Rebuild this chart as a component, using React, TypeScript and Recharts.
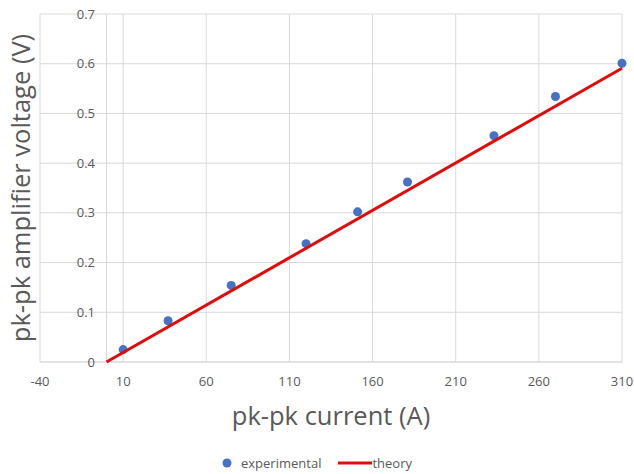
import React from "react";
import {
  ScatterChart,
  Scatter,
  XAxis,
  YAxis,
  CartesianGrid,
  ReferenceLine,
  Legend,
} from "recharts";

// experimental readings
const currentA = [10, 37, 75, 120, 151, 181, 233, 270, 310];
const voltageV = [0.025, 0.083, 0.154, 0.238, 0.302, 0.362, 0.455, 0.534, 0.601];

// theory line endpoints
const theoryCurrent = [0, 310];
const theoryVoltage = [0, 0.591];

const xTicks = [-40, 10, 60, 110, 160, 210, 260, 310];
const yTicks = [0, 0.1, 0.2, 0.3, 0.4, 0.5, 0.6, 0.7];

const experimental = currentA.map((x, i) => ({ x, y: voltageV[i] }));
const theory = theoryCurrent.map((x, i) => ({ x, y: theoryVoltage[i] }));

const FONT = "'Open Sans', sans-serif";
const GRID = "#d9d9d9";
const TEXT = "#595959";
const BLUE = "#4472c4";
const RED = "#e00b0b";

function LegendBox() {
  return (
    <div
      style={{
        display: "flex",
        justifyContent: "center",
        alignItems: "center",
        height: 22,
        fontFamily: FONT,
        fontSize: 13,
        color: TEXT,
        paddingLeft: 12,
      }}
    >
      <svg width={10} height={10} style={{ marginRight: 9 }}>
        <circle cx={5} cy={5} r={4.5} fill={BLUE} />
      </svg>
      <span style={{ marginRight: 17 }}>experimental</span>
      <svg width={34} height={4}>
        <line x1={0} y1={2} x2={34} y2={2} stroke={RED} strokeWidth={3} />
      </svg>
      <span>theory</span>
    </div>
  );
}

export default function App() {
  return (
    <div style={{ position: "absolute", left: 0, top: 0, background: "#fff" }}>
      <ScatterChart
        width={634}
        height={474}
        margin={{ top: 14, right: 12, bottom: 0, left: 0 }}
      >
        <CartesianGrid stroke={GRID} strokeWidth={1} />
        <XAxis
          type="number"
          dataKey="x"
          domain={[-40, 310]}
          ticks={xTicks}
          interval={0}
          height={90}
          axisLine={{ stroke: GRID }}
          tickLine={false}
          tickSize={0}
          tickMargin={15}
          tick={{ fill: TEXT, fontSize: 13, fontFamily: FONT }}
          label={{
            value: "pk-pk current (A)",
            position: "insideBottom",
            offset: 27,
            style: { fill: TEXT, fontSize: 25.5, fontFamily: FONT },
          }}
        />
        <YAxis
          type="number"
          dataKey="y"
          domain={[0, 0.7]}
          ticks={yTicks}
          interval={0}
          width={40}
          axisLine={false}
          tickLine={false}
          tickSize={0}
          tickMargin={0}
          tick={{ fill: TEXT, fontSize: 13, fontFamily: FONT, dx: 55 }}
          label={{
            value: "pk-pk amplifier voltage (V)",
            angle: -90,
            position: "insideLeft",
            offset: 21,
            style: { fill: TEXT, fontSize: 25.5, fontFamily: FONT, textAnchor: "middle" },
          }}
        />
        <ReferenceLine x={0} stroke={GRID} strokeWidth={1} />
        <Legend verticalAlign="bottom" content={<LegendBox />} />
        <Scatter
          name="experimental"
          data={experimental}
          fill={BLUE}
          shape={(p: any) => <circle cx={p.cx} cy={p.cy} r={4.5} fill={BLUE} />}
          isAnimationActive={false}
        />
        <Scatter
          name="theory"
          data={theory}
          line={{ stroke: RED, strokeWidth: 3 }}
          shape={() => <g />}
          isAnimationActive={false}
        />
      </ScatterChart>
    </div>
  );
}
